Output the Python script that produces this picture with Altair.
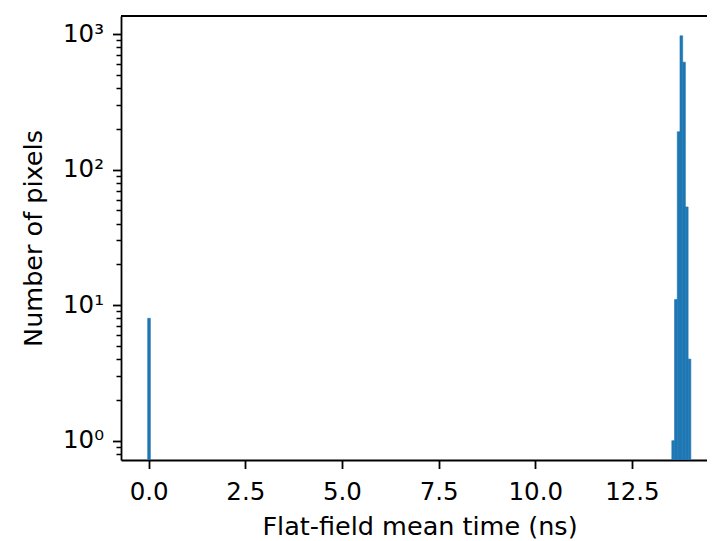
import altair as alt
import pandas as pd

# Histogram bins (ns) and pixel counts
bin_start = [-0.026, 13.532, 13.602, 13.673, 13.743, 13.813, 13.883, 13.954]
bin_end = [0.044, 13.602, 13.673, 13.743, 13.813, 13.883, 13.954, 14.024]
counts = [8, 1, 11, 190, 970, 620, 53, 4]

x_ticks = [0.0, 2.5, 5.0, 7.5, 10.0, 12.5]
y_major = [1, 10, 100, 1000]
y_minor = [0.8, 0.9, 2, 3, 4, 5, 6, 7, 8, 9, 20, 30, 40, 50, 60, 70, 80, 90,
           200, 300, 400, 500, 600, 700, 800, 900]

df = pd.DataFrame({"start": bin_start, "end": bin_end, "count": counts})

W, H = 586, 444
FONT = "DejaVu Sans"
LAB = 24.5
TIT = 25.5
x_dom = [-0.716, 14.442]
y_dom = [0.7206, 1358]

xscale = alt.Scale(domain=x_dom, nice=False, zero=False)
yscale = alt.Scale(type="log", domain=y_dom, nice=False)

bars = alt.Chart(df).mark_bar(color="#1f77b4", clip=True, stroke="#1f77b4",
                              strokeWidth=0.6).encode(
    x=alt.X("start:Q", scale=xscale,
            axis=alt.Axis(values=x_ticks, format=".1f", title="Flat-field mean time (ns)",
                          grid=False, domain=True, domainColor="black", domainWidth=1.8,
                          tickColor="black", tickSize=8.5, tickWidth=1.8,
                          labelColor="black", labelFont=FONT, labelFontSize=LAB,
                          labelPadding=12, titleFont=FONT, titleFontSize=TIT,
                          titleFontWeight="normal", titleColor="black",
                          titlePadding=10, titleX=298.5)),
    x2="end:Q",
    y=alt.Y("count:Q", scale=yscale,
            axis=alt.Axis(values=y_major, orient="left",
                          labelExpr="datum.value == 1 ? '10⁰' : datum.value == 10 ? '10¹' : datum.value == 100 ? '10²' : '10³'",
                          title="Number of pixels", grid=False, domain=True,
                          domainColor="black", domainWidth=1.8,
                          tickColor="black", tickSize=8.5, tickWidth=1.8,
                          labelColor="black", labelFont=FONT, labelFontSize=LAB,
                          labelPadding=9, titleFont=FONT, titleFontSize=TIT,
                          titleFontWeight="normal", titleColor="black", titlePadding=16)),
    y2=alt.value(H),
)

minor = alt.Chart(pd.DataFrame({"v": y_minor})).mark_point(opacity=0, size=0).encode(
    y=alt.Y("v:Q", scale=yscale,
            axis=alt.Axis(values=y_minor, orient="left", labels=False, title=None,
                          grid=False, domain=False, tickColor="black", tickSize=5,
                          tickWidth=1.5)),
)

top_spine = alt.Chart(pd.DataFrame({"v": [0]})).mark_rule(
    color="black", strokeWidth=1.8
).encode(x=alt.value(0), x2=alt.value(W), y=alt.value(0))

chart = alt.layer(bars, minor, top_spine).resolve_axis(y="independent").properties(
    width=W, height=H,
    background="white",
    autosize=alt.AutoSizeParams(type="none"),
    padding={"left": 113, "top": 8, "right": 0, "bottom": 80},
).configure_view(strokeWidth=0)

chart.save("out.html", embed_options={"renderer": "svg", "actions": False})
